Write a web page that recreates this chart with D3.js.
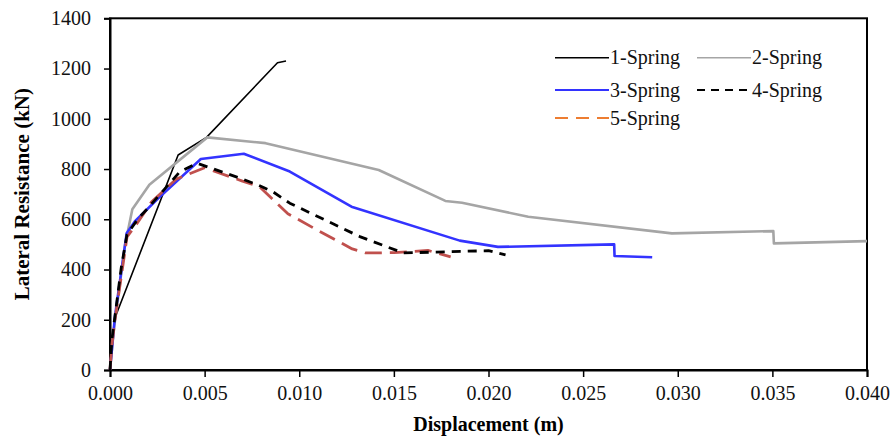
<!DOCTYPE html>
<html>
<head>
<meta charset="utf-8">
<script src="https://cdn.jsdelivr.net/npm/d3@7"></script>
<style>
  body { margin: 0; background: #fff; }
  text { font-family: "Liberation Serif", "Times New Roman", serif; }
</style>
</head>
<body>
<div id="chart"></div>
<script>
// displacement (m), lateral resistance (kN)
const spring1 = [[0,0],[0.00026,207],[0.0036,856],[0.0051,926],[0.00885,1223],[0.0093,1230]];
const spring2 = [[0,0],[0.0002,160],[0.0008,500],[0.00118,640],[0.00208,737],[0.00514,926],[0.00822,903],
  [0.0142,796],[0.01772,673],[0.0186,666],[0.0221,610],[0.02969,544],[0.03505,553],[0.03508,504],[0.0400,513]];
const spring3 = [[0,0],[0.00026,212],[0.00088,544],[0.00132,592],[0.00255,683],[0.0048,840],[0.00707,861],
  [0.0095,790],[0.01276,650],[0.01848,515],[0.0205,490],[0.02664,500],[0.02666,454],[0.02865,449]];
const spring4 = [[0,0],[0.0001,120],[0.0006,410],[0.0009,540],[0.0015,604],[0.002,644],[0.0037,790],
  [0.0046,823],[0.0069,763],[0.0078,737],[0.0086,710],[0.0095,664],[0.0132,531],[0.0155,466],
  [0.0200,475],[0.0209,458]];
const spring5 = [[0,0],[0.0001,100],[0.0003,220],[0.0009,530],[0.0014,580],[0.0022,670],[0.0035,760],
  [0.005,805],[0.007,752],[0.0079,730],[0.0094,622],[0.0110,555],[0.0128,482],[0.0135,466],
  [0.0150,467],[0.0168,476],[0.0180,450]];

const seriesNames = ["1-Spring","2-Spring","3-Spring","4-Spring","5-Spring"];
const xTicks = [0,0.005,0.010,0.015,0.020,0.025,0.030,0.035,0.040];
const yTicks = [0,200,400,600,800,1000,1200,1400];

const W = 893, H = 437;
const margin = {top: 18.3, right: 26, bottom: 67, left: 110};

const svg = d3.select("#chart").append("svg")
  .attr("width", W).attr("height", H);

const x = d3.scaleLinear().domain([0, 0.04]).range([margin.left, W - margin.right]);
const y = d3.scaleLinear().domain([0, 1400]).range([H - margin.bottom, margin.top]);

// frame
svg.append("rect")
  .attr("x", x(0)).attr("y", y(1400))
  .attr("width", x(0.04) - x(0)).attr("height", y(0) - y(1400))
  .attr("fill", "none").attr("stroke", "#000").attr("stroke-width", 2);

const xAxis = svg.append("g")
  .attr("transform", `translate(0,${y(0)})`)
  .call(d3.axisBottom(x).tickValues(xTicks).tickFormat(d3.format(".3f")).tickSize(7).tickPadding(9));
const yAxis = svg.append("g")
  .attr("transform", `translate(${x(0)},0)`)
  .call(d3.axisLeft(y).tickValues(yTicks).tickFormat(d3.format("d")).tickSize(6).tickPadding(13));

[xAxis, yAxis].forEach(g => {
  g.select(".domain").attr("stroke-width", 2);
  g.selectAll(".tick line").attr("stroke-width", 1.5);
  g.selectAll("text").attr("font-size", 20).attr("font-family", "Liberation Serif").attr("fill", "#111");
});

const line = d3.line().x(d => x(d[0])).y(d => y(d[1]));

const styles = [
  {data: spring1, color: "#000000", width: 1.6, dash: null},
  {data: spring2, color: "#a5a5a5", width: 2.6, dash: null},
  {data: spring3, color: "#3333ff", width: 2.6, dash: null},
  {data: spring5, color: "#c0504d", width: 2.8, dash: "17,8"},
  {data: spring4, color: "#000000", width: 2.8, dash: "9,7"}
];

svg.append("g").selectAll("path")
  .data(styles)
  .join("path")
  .attr("d", d => line(d.data))
  .attr("fill", "none")
  .attr("stroke", d => d.color)
  .attr("stroke-width", d => d.width)
  .attr("stroke-dasharray", d => d.dash)
  .attr("stroke-linejoin", "round");

// legend
const legend = [
  {name: seriesNames[0], color: "#000000", width: 1.5, dash: null, lx: 555, ly: 57.7},
  {name: seriesNames[1], color: "#a5a5a5", width: 1.5, dash: null, lx: 697, ly: 57.7},
  {name: seriesNames[2], color: "#3333ff", width: 2, dash: null, lx: 555, ly: 90},
  {name: seriesNames[3], color: "#000000", width: 2, dash: "8,6", lx: 697, ly: 90},
  {name: seriesNames[4], color: "#ed7d31", width: 2, dash: "13,8", lx: 555, ly: 118}
];
const lg = svg.append("g").selectAll("g").data(legend).join("g")
  .attr("transform", d => `translate(${d.lx},${d.ly})`);
lg.append("line")
  .attr("x1", 0).attr("x2", 54).attr("y1", 0).attr("y2", 0)
  .attr("stroke", d => d.color).attr("stroke-width", d => d.width)
  .attr("stroke-dasharray", d => d.dash);
lg.append("text")
  .attr("x", 55).attr("y", 0).attr("dy", "0.33em")
  .attr("font-size", 20).attr("fill", "#111")
  .text(d => d.name);

// axis titles
svg.append("text")
  .attr("x", (x(0) + x(0.04)) / 2).attr("y", 431)
  .attr("text-anchor", "middle").attr("font-size", 20).attr("font-weight", "bold")
  .text("Displacement (m)");
svg.append("text")
  .attr("transform", `translate(29,${(y(0) + y(1400)) / 2}) rotate(-90)`)
  .attr("text-anchor", "middle").attr("font-size", 21).attr("font-weight", "bold")
  .text("Lateral Resistance (kN)");
</script>
</body>
</html>
